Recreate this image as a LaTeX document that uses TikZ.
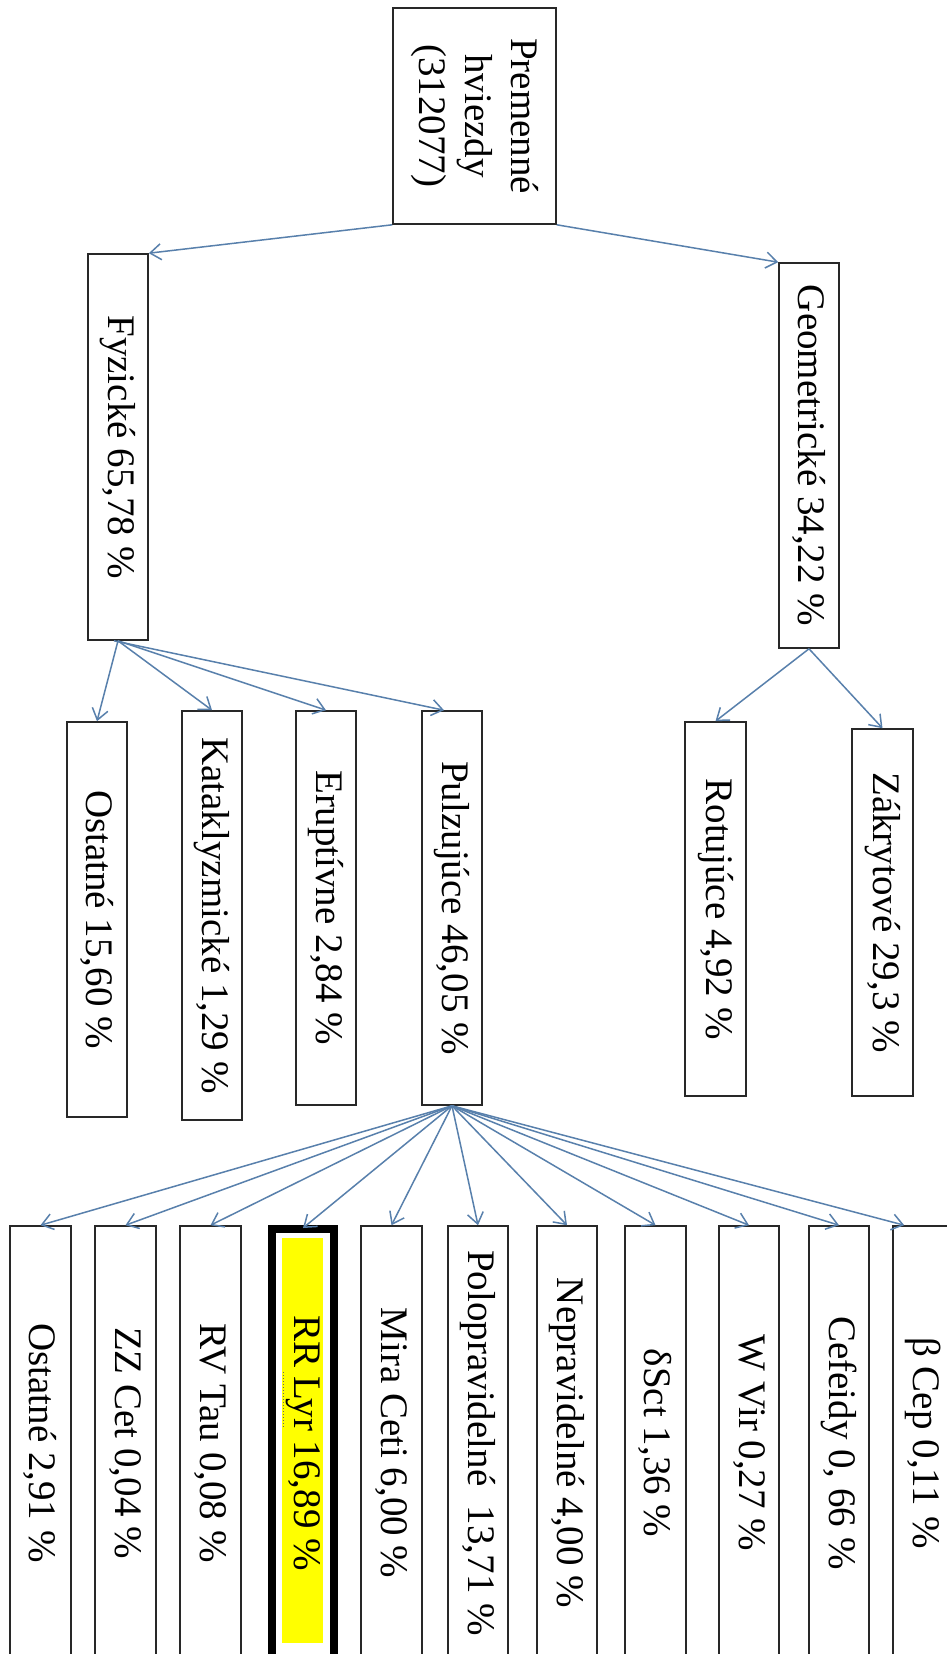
\documentclass[tikz,border=0pt]{standalone}
\usepackage{fontspec}
\usepackage{graphicx}
\setmainfont{Liberation Serif}
\usetikzlibrary{arrows.meta}
\definecolor{conn}{RGB}{88,128,172}
\definecolor{boxline}{RGB}{40,40,40}
\definecolor{hl}{RGB}{255,255,0}
\tikzset{
  box/.style={draw=boxline, line width=1.6pt, fill=white, inner sep=0pt, minimum width=#1},
  box/.default=60pt,
  conn/.style={draw=conn, line width=1.5pt, -{Straight Barb[length=11pt,width=16pt,line width=1.5pt]}},
  lbl/.style={inner sep=0pt, font=\fontsize{39}{46}\selectfont}
}
\newcommand{\rt}[1]{\rotatebox{-90}{#1}}
\begin{document}
\begin{tikzpicture}[x=1pt,y=-1pt]
\useasboundingbox (0,0) rectangle (947,1654);
\clip (0,0) rectangle (947,1654);
\fill[white] (0,0) rectangle (947,1654);

% level 0
\node[box=163pt, minimum height=216pt] (root) at (474.5,116) {};
\node[lbl] (roottext) at (root) {\rt{\begin{tabular}{@{}c@{}}Premenné\\hviezdy\\(312077)\end{tabular}}};

% level 1
\node[box, minimum height=386pt] (fyz) at (118,447) {};
\node[lbl] at (fyz) {\rt{Fyzické 65,78 \%}};
\node[box, minimum height=385pt] (geo) at (809,455.5) {};
\node[lbl] at (geo) {\rt{Geometrické 34,22 \%}};

% level 2 geometric
\node[box=61pt, minimum height=374pt] (rot) at (715.5,909) {};
\node[lbl] at (rot) {\rt{Rotujúce 4,92 \%}};
\node[box=61pt, minimum height=367pt] (zak) at (882.5,912.5) {};
\node[lbl] at (zak) {\rt{Zákrytové 29,3 \%}};

% level 2 physical
\node[box, minimum height=395pt] (ost1) at (97,919.5) {};
\node[lbl] at (ost1) {\rt{Ostatné 15,60 \%}};
\node[box, minimum height=409pt] (kat) at (212,915.5) {};
\node[lbl] at (kat) {\rt{Kataklyzmické 1,29 \%}};
\node[box, minimum height=394pt] (eru) at (326,908) {};
\node[lbl] at (eru) {\rt{Eruptívne 2,84 \%}};
\node[box, minimum height=394pt] (pul) at (452,908) {};
\node[lbl] at (pul) {\rt{Pulzujúce 46,05 \%}};

% level 3
\node[box=61pt, minimum height=434pt] (ost2) at (40.5,1443) {};
\node[lbl] at (ost2) {\rt{Ostatné 2,91 \%}};
\node[box=61pt, minimum height=434pt] (zz) at (125.5,1443) {};
\node[lbl] at (zz) {\rt{ZZ Cet 0,04 \%}};
\node[box=61pt, minimum height=434pt] (rv) at (210.5,1443) {};
\node[lbl] at (rv) {\rt{RV Tau 0,08 \%}};
\node[draw=black, line width=8pt, fill=white, inner sep=0pt, minimum width=62pt, minimum height=434pt] (rr) at (303,1446) {};
\fill[hl] (282,1238) rectangle (323,1643);
\node[lbl] (rrtext) at (303,1443) {\rt{RR Lyr 16,89 \%}};
\draw[dotted, line width=1pt, color=black!60] (283,1372) -- (283,1427);
\node[box=61pt, minimum height=434pt] (mira) at (391.5,1443) {};
\node[lbl] at (mira) {\rt{Mira Ceti 6,00 \%}};
\node[box, minimum height=434pt] (polo) at (478,1443) {};
\node[lbl] at (polo) {\rt{Polopravidelné~~13,71 \%}};
\node[box, minimum height=434pt] (nep) at (567,1443) {};
\node[lbl] at (nep) {\rt{Nepravidelné 4,00 \%}};
\node[box=61pt, minimum height=434pt] (dsct) at (655.5,1443) {};
\node[lbl] at (dsct) {\rt{δSct 1,36 \%}};
\node[box, minimum height=434pt] (wvir) at (749,1443) {};
\node[lbl] at (wvir) {\rt{W Vir 0,27 \%}};
\node[box, minimum height=434pt] (cef) at (839,1443) {};
\node[lbl] at (cef) {\rt{Cefeidy 0, 66 \%}};
\node[box=61pt, minimum height=434pt] (bcep) at (923.5,1443) {};
\node[lbl] at (bcep) {\rt{β Cep 0,11 \%}};

% connectors
\draw[conn] (root.south west) -- (fyz.north east);
\draw[conn] (root.south east) -- (geo.north west);
\draw[conn] (geo.south) -- (rot.north);
\draw[conn] (geo.south) -- (zak.north);
\draw[conn] (fyz.south) -- (ost1.north);
\draw[conn] (fyz.south) -- (kat.north);
\draw[conn] (fyz.south) -- (eru.north);
\draw[conn] ([xshift=-4pt]fyz.south) -- ([xshift=-8pt]pul.north);
\foreach \t in {ost2,zz,rv,mira,polo,nep,dsct,wvir,cef}
  \draw[conn] (pul.south) -- (\t.north);
\draw[conn] (pul.south) -- ([yshift=-3pt]rr.north);
\draw[conn] (pul.south) -- ([xshift=12pt]bcep.north west);
\end{tikzpicture}
\end{document}
